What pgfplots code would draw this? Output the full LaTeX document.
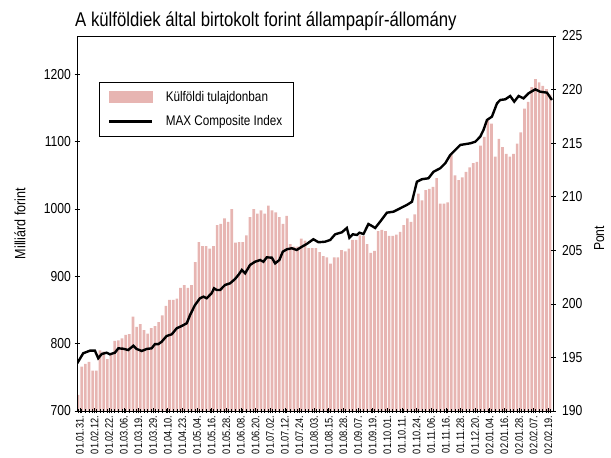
\documentclass[border=0pt]{standalone}
\usepackage{fontspec}
\setmainfont{Liberation Sans}[FakeStretch=0.84]
\usepackage{pgfplots}
\pgfplotsset{compat=1.18}
\definecolor{barpink}{RGB}{231,181,178}
\begin{document}
\begin{tikzpicture}[x=1bp,y=1bp]
\path[use as bounding box] (0,0) rectangle (611,458);
\node[anchor=base west, font=\fontsize{20}{23}\selectfont, inner sep=0pt] at (75,431) {A külföldiek által birtokolt forint állampapír-állomány};
\begin{axis}[
  at={(77bp,47bp)}, anchor=south west,
  scale only axis, width=476bp, height=375bp,
  xmin=-1.6, xmax=258.6, ymin=700, ymax=1257,
  axis on top,
  axis line style={black, line width=0.9bp},
  ytick pos=left, xtick pos=bottom,
  tick align=center,
  ytick={700,800,...,1200},
  xtick={0,8,...,256},
  minor xtick={-1,1,...,257},
  major tick length=5bp, minor tick length=4bp,
  tick style={black, line width=0.6bp},
  xticklabels={01.01.31.,01.02.12.,01.02.22.,01.03.06.,01.03.19.,01.03.29.,01.04.10.,01.04.23.,01.05.04.,01.05.16.,01.05.28.,01.06.08.,01.06.20.,01.07.02.,01.07.12.,01.07.24.,01.08.03.,01.08.15.,01.08.28.,01.09.07.,01.09.19.,01.10.01.,01.10.11.,01.10.24.,01.11.06.,01.11.16.,01.11.28.,01.12.20.,02.01.04.,02.01.16.,02.01.28.,02.02.07.,02.02.19.},
  xticklabel style={rotate=90, anchor=east, font=\fontsize{11}{12}\selectfont, inner sep=2bp},
  yticklabel style={font=\fontsize{14.5}{16}\selectfont},
  /pgf/number format/assume math mode=true,
  /pgf/number format/1000 sep={},
  ylabel={Milliárd forint},
  ylabel style={at={(axis description cs:-0.12,0.5)}, anchor=center, font=\fontsize{15}{17}\selectfont},
]
\addplot[ybar, bar width=1.45, fill=barpink, draw=none] coordinates {
(-1,724)(1,766)(3,770)(5,773)(7,760)(9,760)(11,790)(13,788)(15,777)(17,784)
(19,804)(21,805)(23,808)(25,813)(27,814)(29,840)(31,825)(33,829)(35,820)(37,815)
(39,823)(41,826)(43,832)(45,842)(47,856)(49,865)(51,865)(53,867)(55,883)(57,887)
(59,883)(61,887)(63,921)(65,951)(67,945)(69,945)(71,941)(73,945)(75,976)(77,978)
(79,986)(81,981)(83,1000)(85,950)(87,951)(89,951)(91,961)(93,988)(95,1000)(97,993)
(99,998)(101,993)(103,1005)(105,998)(107,995)(109,988)(111,978)(113,990)(115,948)(117,944)
(119,944)(121,956)(123,953)(125,942)(127,942)(129,942)(131,936)(133,930)(135,928)(137,919)
(139,928)(141,928)(143,939)(145,937)(147,941)(149,954)(151,954)(153,961)(155,960)(157,948)
(159,935)(161,938)(163,967)(165,969)(167,967)(169,960)(171,960)(173,962)(175,966)(177,976)
(179,986)(181,981)(183,992)(185,1023)(187,1013)(189,1028)(191,1030)(193,1033)(195,1046)(197,1008)
(199,1008)(201,1010)(203,1081)(205,1050)(207,1043)(209,1047)(211,1055)(213,1062)(215,1068)(217,1070)
(219,1094)(221,1107)(223,1134)(225,1127)(227,1078)(229,1104)(231,1092)(233,1082)(235,1078)(237,1082)
(239,1097)(241,1114)(243,1149)(245,1159)(247,1181)(249,1193)(251,1188)(253,1183)(255,1178)(257,1170)
};
\end{axis}
\begin{axis}[
  at={(77bp,47bp)}, anchor=south west,
  scale only axis, width=476bp, height=375bp,
  xmin=-1.6, xmax=258.6, ymin=190, ymax=225,
  axis y line*=right, axis x line=none,
  axis line style={black, line width=0.9bp},
  tick align=center, major tick length=5bp,
  tick style={black, line width=0.6bp},
  ytick={190,195,...,225},
  yticklabel style={font=\fontsize{14.5}{16}\selectfont, xshift=3bp},
  /pgf/number format/assume math mode=true,
  ylabel={Pont},
  ylabel style={at={(axis description cs:1.097,0.46)}, anchor=center, rotate=0, font=\fontsize{14.5}{16}\selectfont},
  legend style={at={(axis description cs:0.0468,0.878)}, anchor=north west, draw=black, line width=1bp,
    inner xsep=8bp, inner ysep=6bp, row sep=7bp, font=\fontsize{14}{16}\selectfont,
    nodes={inner sep=3bp}},
  legend cell align=left,
]
\addlegendimage{legend image code/.code={\fill[barpink] (0bp,-5.5bp) rectangle (43bp,5.5bp);}}
\addlegendentry{\hspace{9bp}Külföldi tulajdonban}
\addplot[black, line width=2.4bp, legend image code/.code={\draw[black, line width=3bp] (0bp,0bp) -- (43bp,0bp);}] coordinates {
(-1.5,194.45)(1.8,195.39)(5.5,195.63)(8.2,195.63)(10.0,194.92)(11.9,195.32)(14.6,195.44)(16.4,195.29)(19.1,195.44)(21.0,195.85)
(23.7,195.81)(26.4,195.69)(29.2,196.09)(31.0,195.79)(33.8,195.60)(36.5,195.79)(39.2,195.85)(41.0,196.25)(42.8,196.23)(44.7,196.47)
(47.4,197.00)(50.2,197.16)(52.9,197.72)(55.6,197.93)(58.4,198.19)(60.2,198.96)(62.9,199.89)(65.6,200.52)(67.5,200.67)(69.3,200.52)
(72.0,200.99)(73.3,201.45)(74.8,201.29)(76.6,201.29)(79.3,201.76)(82.1,201.92)(84.8,202.32)(86.6,202.69)(88.5,203.16)(90.3,202.85)
(93.0,203.63)(95.7,203.93)(98.5,204.09)(100.3,203.93)(102.1,204.34)(104.9,204.31)(106.7,203.78)(109.0,204.09)(110.9,204.87)(113.1,205.09)
(115.8,205.19)(118.5,205.03)(121.3,205.33)(124.0,205.59)(127.6,206.03)(130.4,205.75)(134.0,205.80)(136.8,205.96)(139.5,206.49)(143.2,206.68)
(145.9,207.08)(147.3,206.17)(149.2,206.49)(151.4,206.43)(152.8,206.64)(155.0,206.52)(157.7,207.45)(159.6,207.27)(161.4,207.08)(164.1,207.67)
(167.8,208.51)(171.4,208.60)(175.1,208.92)(178.7,209.23)(181.5,209.53)(184.2,211.40)(186.9,211.63)(190.5,211.72)(193.3,212.33)(196.9,212.65)
(199.7,213.12)(202.4,213.89)(206.1,214.52)(207.9,214.83)(213.3,214.98)(216.1,215.13)(218.8,215.60)(220.6,216.23)(222.5,217.16)(225.2,217.47)
(228.0,218.72)(229.8,219.03)(232.5,219.09)(235.2,219.40)(237.4,218.87)(239.8,219.40)(242.5,219.18)(245.2,219.65)(248.9,220.02)(251.6,219.80)
(255.3,219.71)(258.0,219.03)
};
\addlegendentry{\hspace{9bp}MAX Composite Index}
\end{axis}
\end{tikzpicture}
\end{document}
